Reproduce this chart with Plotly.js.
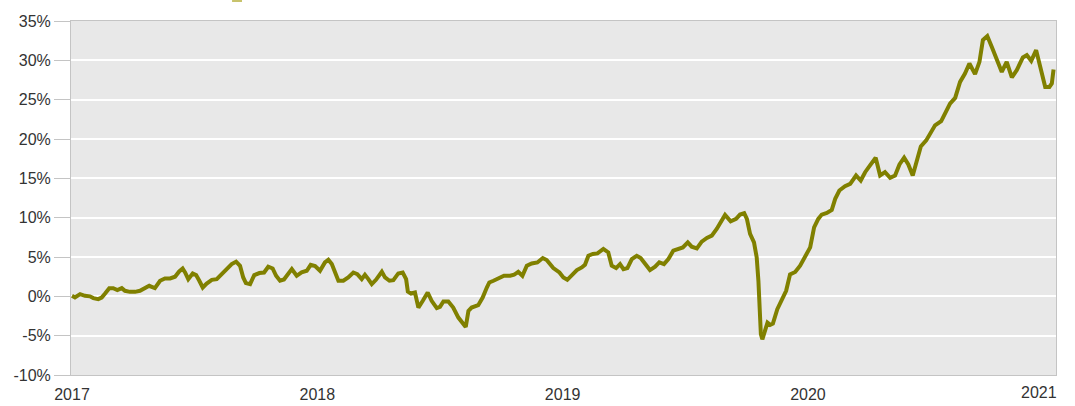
<!DOCTYPE html>
<html>
<head>
<meta charset="utf-8">
<script src="https://cdn.plot.ly/plotly-3.0.1.min.js"></script>
<style>html,body{margin:0;padding:0;background:#fff;}#chart{width:1075px;height:406px;}</style>
</head>
<body>
<div id="chart"></div>
<script>
// time in decimal years, value in percent
const years = [
2017.000,2017.012,2017.033,2017.053,2017.073,2017.087,2017.107,2017.121,2017.135,2017.152,
2017.168,2017.185,2017.203,2017.216,2017.236,2017.257,2017.277,2017.298,2017.315,2017.325,
2017.338,2017.359,2017.379,2017.400,2017.420,2017.437,2017.451,2017.461,2017.474,2017.492,
2017.506,2017.519,2017.533,2017.549,2017.570,2017.590,2017.610,2017.631,2017.651,2017.669,
2017.685,2017.698,2017.709,2017.726,2017.743,2017.764,2017.783,2017.800,2017.818,2017.832,
2017.848,2017.864,2017.882,2017.896,2017.916,2017.936,2017.957,2017.973,2017.991,2018.011,
2018.031,2018.045,2018.059,2018.072,2018.086,2018.106,2018.126,2018.147,2018.163,2018.181,
2018.194,2018.208,2018.222,2018.239,2018.263,2018.276,2018.294,2018.310,2018.330,2018.348,
2018.362,2018.369,2018.382,2018.398,2018.412,2018.430,2018.450,2018.466,2018.487,2018.500,
2018.514,2018.534,2018.554,2018.575,2018.593,2018.605,2018.616,2018.629,2018.656,2018.674,
2018.691,2018.701,2018.718,2018.738,2018.761,2018.786,2018.802,2018.819,2018.836,2018.854,
2018.874,2018.897,2018.919,2018.935,2018.945,2018.962,2018.987,2019.003,2019.019,2019.037,
2019.058,2019.078,2019.091,2019.105,2019.123,2019.142,2019.166,2019.186,2019.200,2019.218,
2019.234,2019.248,2019.264,2019.282,2019.302,2019.318,2019.336,2019.356,2019.377,2019.394,
2019.413,2019.431,2019.451,2019.472,2019.490,2019.510,2019.526,2019.547,2019.567,2019.588,
2019.608,2019.628,2019.649,2019.662,2019.685,2019.707,2019.723,2019.740,2019.751,2019.764,
2019.780,2019.791,2019.798,2019.802,2019.808,2019.814,2019.825,2019.835,2019.846,2019.857,
2019.875,2019.893,2019.911,2019.927,2019.948,2019.968,2019.988,2020.009,2020.025,2020.042,
2020.056,2020.077,2020.097,2020.111,2020.128,2020.151,2020.172,2020.196,2020.215,2020.233,
2020.253,2020.276,2020.294,2020.314,2020.335,2020.355,2020.373,2020.392,2020.409,2020.427,
2020.444,2020.460,2020.482,2020.501,2020.518,2020.543,2020.563,2020.579,2020.600,2020.620,
2020.640,2020.658,2020.681,2020.699,2020.713,2020.731,2020.749,2020.770,2020.790,2020.810,
2020.831,2020.851,2020.876,2020.892,2020.910,2020.930,2020.946,2020.967,2020.984,2020.994,
2021.001
];
const returnsPct = [
0.06,-0.15,0.28,0.06,0.00,-0.23,-0.36,-0.15,0.36,1.04,
1.04,0.79,1.04,0.70,0.57,0.57,0.70,1.12,1.34,1.21,
1.04,1.98,2.27,2.27,2.49,3.16,3.54,3.03,2.19,2.91,
2.70,1.98,1.12,1.63,2.10,2.19,2.83,3.59,4.10,4.40,
3.89,2.40,1.68,1.55,2.70,2.96,3.03,3.76,3.54,2.61,
1.98,2.14,2.83,3.46,2.61,3.05,3.25,4.00,3.85,3.25,
4.31,4.65,4.10,3.03,1.98,1.98,2.40,3.03,2.83,2.19,
2.74,2.19,1.55,2.10,3.12,2.40,1.98,2.06,2.91,3.03,
2.19,0.61,0.36,0.49,-1.43,-0.57,0.49,-0.57,-1.50,-1.34,
-0.66,-0.66,-1.43,-2.70,-3.47,-3.89,-1.85,-1.43,-1.12,-0.15,
1.12,1.76,1.98,2.32,2.61,2.61,2.74,3.12,2.61,3.89,
4.18,4.31,4.87,4.61,4.20,3.59,3.03,2.40,2.10,2.61,
3.34,3.67,4.02,5.16,5.38,5.46,6.02,5.58,3.89,3.59,
4.10,3.46,3.59,4.74,5.16,4.87,4.10,3.34,3.76,4.31,
4.10,4.74,5.80,6.02,6.22,6.86,6.31,6.09,6.95,7.42,
7.71,8.57,9.84,10.35,9.54,9.84,10.39,10.56,9.84,7.93,
6.86,4.95,1.98,-1.43,-4.82,-5.46,-4.40,-3.34,-3.63,-3.47,
-1.63,-0.36,0.70,2.80,3.10,3.90,5.16,6.22,8.77,9.84,
10.39,10.60,10.99,12.39,13.45,14.00,14.30,15.36,14.72,15.78,
16.64,17.62,15.36,15.78,15.07,15.36,16.76,17.62,16.76,15.36,
17.27,19.06,19.82,20.88,21.74,22.28,23.65,24.50,25.22,27.26,
28.33,29.60,28.24,29.81,32.57,33.08,31.72,30.02,28.53,29.81,
27.82,28.75,30.37,30.66,29.94,31.30,29.17,26.62,26.62,27.05,
28.84
];
const yTicks = [-10,-5,0,5,10,15,20,25,30,35];
const yTickText = ['-10%','-5%','0%','5%','10%','15%','20%','25%','30%','35%'];
const xTickVals = [2017,2018,2019,2020];
const xTickText = ['2017','2018','2019','2020'];
const lastYearLabel = '2021';

const FONT = 'Liberation Sans, Arial, sans-serif';
const trace = {
  x: years, y: returnsPct, type: 'scatter', mode: 'lines',
  line: {color: '#808000', width: 4}, hoverinfo: 'x+y'
};
const layout = {
  width: 1075, height: 406,
  margin: {l: 71, r: 19, t: 21, b: 31, pad: 0},
  paper_bgcolor: '#ffffff', plot_bgcolor: '#e8e8e8',
  showlegend: false,
  font: {family: FONT, size: 16, color: '#333333'},
  xaxis: {
    type: 'linear', range: [2016.996, 2021.011],
    tickmode: 'array', tickvals: xTickVals, ticktext: xTickText,
    showgrid: false, zeroline: false,
    showline: true, linecolor: '#c4c4c4', linewidth: 1, mirror: true,
    ticks: 'outside', ticklen: 5, tickcolor: 'rgba(0,0,0,0)',
    tickfont: {family: FONT, size: 16, color: '#333333'}
  },
  yaxis: {
    range: [-10, 35], tickmode: 'array', tickvals: yTicks, ticktext: yTickText,
    showgrid: true, gridcolor: '#ffffff', gridwidth: 2, zeroline: false,
    showline: true, linecolor: '#c4c4c4', linewidth: 1, mirror: true,
    ticks: 'outside', ticklen: 16, tickcolor: '#c4c4c4', tickwidth: 1,
    tickfont: {family: FONT, size: 16, color: '#333333'}
  },
  annotations: [{
    x: 2021, xref: 'x', y: 0, yref: 'paper', text: lastYearLabel,
    showarrow: false, xanchor: 'right', yanchor: 'top', xshift: 6, yshift: -7,
    font: {size: 16, color: '#333333', family: FONT}
  }],
  shapes: [{
    type: 'rect', xref: 'paper', yref: 'paper',
    x0: 0.1635, x1: 0.1736, y0: 1.0537, y1: 1.0593,
    fillcolor: '#c8c36c', line: {width: 0}
  }]
};
Plotly.newPlot('chart', [trace], layout, {displayModeBar: false, staticPlot: true});
</script>
</body>
</html>
